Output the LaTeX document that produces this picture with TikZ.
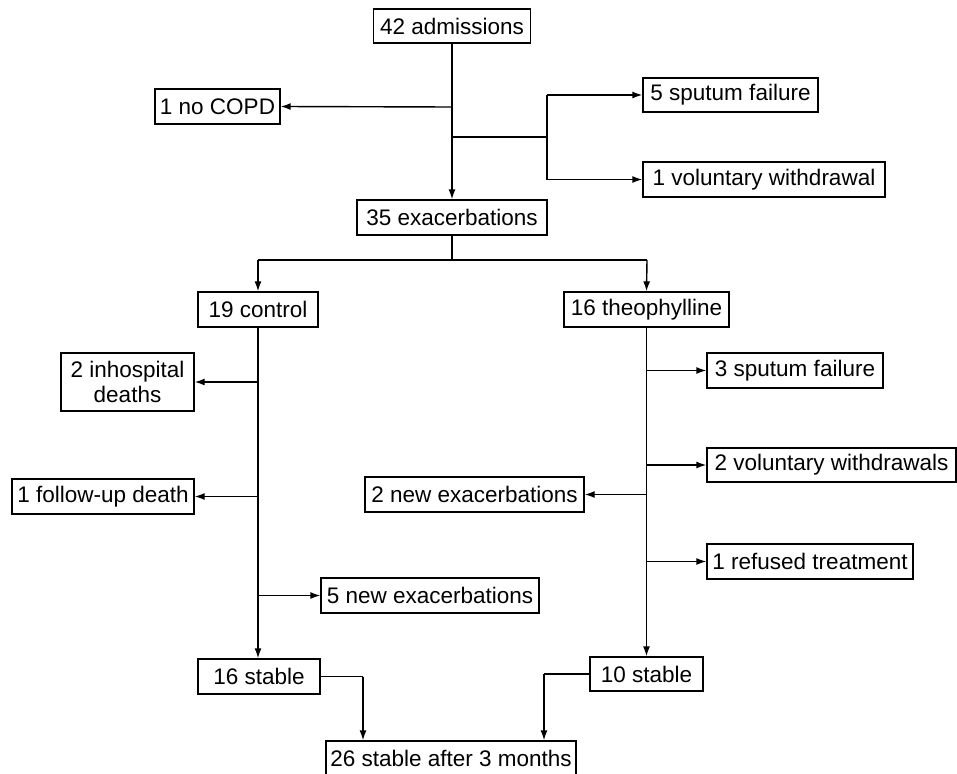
\documentclass[tikz,border=0pt]{standalone}
\usepackage{fontspec}
\setmainfont{Liberation Sans}
\usetikzlibrary{arrows.meta}
\begin{document}
\begin{tikzpicture}[x=1pt,y=-1pt,
  box/.style={draw, line width=1.4pt, inner sep=0pt, align=center,
    font=\fontsize{22.5}{25}\selectfont},
  conn/.style={line width=1.4pt},
  arr/.style={conn, -{Latex[length=10pt,width=7pt]}}]
\useasboundingbox (0,0) rectangle (957,773);
% boxes
\node[box, minimum width=157pt, minimum height=34pt] (adm) at (452,26) {42 admissions};
\node[box, minimum width=125pt, minimum height=35pt] (nocopd) at (217.5,106.5) {1 no COPD};
\node[box, minimum width=175pt, minimum height=34pt] (sput5) at (730.5,95) {5 sputum failure};
\node[box, minimum width=242pt, minimum height=35pt] (vol1) at (764,179.5) {1 voluntary withdrawal};
\node[box, minimum width=190pt, minimum height=35pt] (exc35) at (452,217.5) {35 exacerbations};
\node[box, minimum width=120pt, minimum height=35pt] (ctrl) at (258,309.5) {19 control};
\node[box, minimum width=165pt, minimum height=35pt] (theo) at (646.5,309.5) {16 theophylline};
\node[box, minimum width=133pt, minimum height=58pt] (inhosp) at (127.5,382) {2 inhospital\\deaths};
\node[box, minimum width=182pt, minimum height=35pt] (fud) at (103,496.5) {1 follow-up death};
\node[box, minimum width=219pt, minimum height=35pt] (new2) at (474.5,494.5) {2 new exacerbations};
\node[box, minimum width=218pt, minimum height=35pt] (new5) at (430,595.5) {5 new exacerbations};
\node[box, minimum width=176pt, minimum height=35pt] (sput3) at (795,370.5) {3 sputum failure};
\node[box, minimum width=249pt, minimum height=34pt] (vol2) at (831.5,465) {2 voluntary withdrawals};
\node[box, minimum width=206pt, minimum height=35pt] (ref1) at (810,561.5) {1 refused treatment};
\node[box, minimum width=122pt, minimum height=35pt] (st16) at (259,676.5) {16 stable};
\node[box, minimum width=113pt, minimum height=34pt] (st10) at (646.5,674) {10 stable};
\node[box, minimum width=250pt, minimum height=35pt] (st26) at (451,758.5) {26 stable after 3 months};
% junction coordinates
\coordinate (j1) at (452,107);
\coordinate (j2) at (452,137);
\coordinate (j3) at (547,137);
\coordinate (j4) at (547,95);
\coordinate (j5) at (547,179.5);
\coordinate (j6) at (452,260);
\coordinate (j7) at (258,260);
\coordinate (j8) at (647,260);
\coordinate (c1) at (258,382);
\coordinate (c2) at (258,496.5);
\coordinate (c3) at (258,595.5);
\coordinate (t1) at (647,370.5);
\coordinate (t2) at (647,465);
\coordinate (t3) at (647,494.5);
\coordinate (t4) at (647,561.5);
\coordinate (b1) at (363,676.5);
\coordinate (b2) at (544,674);
% connectors top
\draw[arr] (adm.south) -- (exc35.north);
\draw[arr] (j1) -- (nocopd.east);
\draw[conn] (j2) -- (j3);
\draw[conn] (j4) -- (j5);
\draw[arr] (j4) -- (sput5.west);
\draw[arr] (j5) -- (vol1.west);
% split
\draw[conn] (exc35.south) -- (j6);
\draw[conn] (j7) -- (j8);
\draw[arr] (j7) -- (ctrl.north);
\draw[arr] (j8) -- (theo.north);
% control arm
\draw[arr] (ctrl.south) -- (ctrl.south |- st16.north);
\draw[arr] (c1) -- (inhosp.east);
\draw[arr] (c2) -- (fud.east);
\draw[arr] (c3) -- (new5.west);
% theophylline arm
\draw[arr] (theo.south) -- (theo.south |- st10.north);
\draw[arr] (t1) -- (sput3.west);
\draw[arr] (t2) -- (vol2.west);
\draw[arr] (t3) -- (new2.east);
\draw[arr] (t4) -- (ref1.west);
% merge
\draw[conn] (st16.east) -- (b1);
\draw[arr] (b1) -- (b1 |- st26.north);
\draw[conn] (st10.west) -- (b2);
\draw[arr] (b2) -- (b2 |- st26.north);
\end{tikzpicture}
\end{document}
